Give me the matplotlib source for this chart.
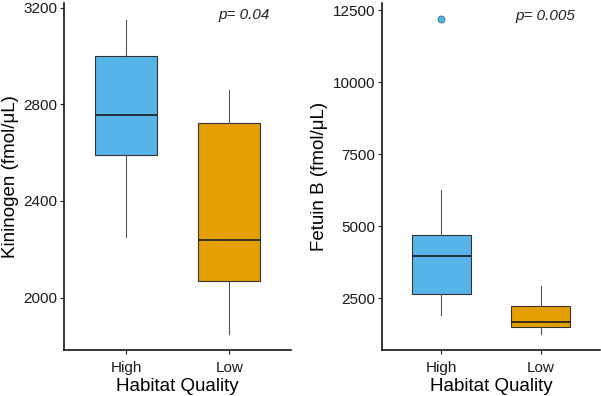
import matplotlib
matplotlib.use('Agg')
import matplotlib.pyplot as plt

groups = ['High', 'Low']
fill_colors = ['#56B4E9', '#E69F00']

# box stats: whislo, q1, med, q3, whishi
kininogen_stats = [
    [2250, 2590, 2755, 3000, 3150],
    [1848, 2068, 2240, 2722, 2857],
]
kininogen_fliers = [[], []]
kininogen_p = 'p= 0.04'

fetuin_stats = [
    [1914, 2672, 3966, 4690, 6259],
    [1258, 1500, 1672, 2224, 2948],
]
fetuin_fliers = [[12190], []]
fetuin_p = 'p= 0.005'

plt.rcParams['font.family'] = ['Liberation Sans', 'DejaVu Sans']


def make_stats(rows, fliers):
    out = []
    for row, fl, name in zip(rows, fliers, groups):
        out.append(dict(whislo=row[0], q1=row[1], med=row[2], q3=row[3],
                        whishi=row[4], fliers=fl, label=name))
    return out


def draw_panel(ax, rows, fliers, ylabel, ticks, ylim, ptext, ptext_pos):
    parts = ax.bxp(make_stats(rows, fliers), positions=[1, 2], widths=0.6,
                   patch_artist=True, showcaps=False,
                   medianprops=dict(color='#1a1a1a', linewidth=1.2),
                   whiskerprops=dict(color='#555555', linewidth=0.8),
                   boxprops=dict(edgecolor='#333333', linewidth=0.8),
                   flierprops=dict(marker='o', markersize=5,
                                   markerfacecolor=fill_colors[0],
                                   markeredgecolor='#3a6f8f', markeredgewidth=0.6))
    for patch, c in zip(parts['boxes'], fill_colors):
        patch.set_facecolor(c)
    ax.set_xlim(0.4, 2.6)
    ax.set_ylim(*ylim)
    ax.set_yticks(ticks)
    ax.set_xticks([1, 2])
    ax.set_xticklabels(groups)
    ax.set_ylabel(ylabel, fontsize=13.5, labelpad=3)
    ax.set_xlabel('Habitat Quality', fontsize=13.5, labelpad=2)
    ax.tick_params(labelsize=11, colors='#222222', length=3, width=0.8, pad=2)
    ax.tick_params(axis='x', pad=5)
    ax.tick_params(axis='both', labelcolor='#1a1a1a')
    for side in ['top', 'right']:
        ax.spines[side].set_visible(False)
    for side in ['left', 'bottom']:
        ax.spines[side].set_linewidth(1.1)
    ax.text(ptext_pos[0], ptext_pos[1], ptext, fontstyle='italic',
            fontsize=11, ha='center', va='center', color='#222222')


figure = plt.figure(figsize=(6.01, 3.96), dpi=100)
ax1 = figure.add_axes([0.1065, 0.116, 0.378, 0.876])
ax2 = figure.add_axes([0.6356, 0.116, 0.363, 0.876])

draw_panel(ax1, kininogen_stats, kininogen_fliers, 'Kininogen (fmol/μL)',
           [2000, 2400, 2800, 3200], (1783, 3218), kininogen_p, (2.14, 3170))
draw_panel(ax2, fetuin_stats, fetuin_fliers, 'Fetuin B (fmol/μL)',
           [2500, 5000, 7500, 10000, 12500], (711, 12740), fetuin_p, (2.05, 12300))

figure.savefig('out.png', dpi=100)
